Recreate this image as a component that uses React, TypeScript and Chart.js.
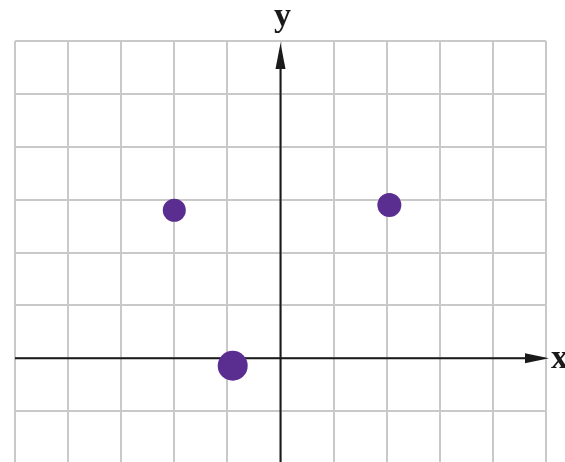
import React, { useEffect, useRef } from "react";
import { Chart, registerables } from "chart.js";

Chart.register(...registerables);

const pointsX = [-2.0, 2.05, -0.9];
const pointsY = [2.8, 2.9, -0.14];
const pointRadii = [11.5, 12, 15];
const xRange = [-5, 5];
const yRange = [-1.96, 6];
const axisLabels = ["x", "y"];

const axesPlugin = {
  id: "arrowAxes",
  beforeDatasetsDraw(chart: any) {
    const { ctx, scales, chartArea } = chart;
    const x0 = scales.x.getPixelForValue(0);
    const y0 = scales.y.getPixelForValue(0);
    ctx.save();
    ctx.strokeStyle = "#1a1a1a";
    ctx.fillStyle = "#1a1a1a";
    ctx.lineWidth = 2;
    // x axis
    const xTip = chartArea.right + 3;
    ctx.beginPath();
    ctx.moveTo(chartArea.left, y0);
    ctx.lineTo(xTip - 20, y0);
    ctx.stroke();
    ctx.beginPath();
    ctx.moveTo(xTip, y0);
    ctx.lineTo(xTip - 24, y0 - 5);
    ctx.lineTo(xTip - 24, y0 + 5);
    ctx.closePath();
    ctx.fill();
    // y axis
    const yTip = chartArea.top + 2;
    ctx.beginPath();
    ctx.moveTo(x0, chart.height);
    ctx.lineTo(x0, yTip + 20);
    ctx.stroke();
    ctx.beginPath();
    ctx.moveTo(x0, yTip);
    ctx.lineTo(x0 - 5, yTip + 26);
    ctx.lineTo(x0 + 5, yTip + 26);
    ctx.closePath();
    ctx.fill();
    // labels
    ctx.font = "bold 34px 'Liberation Serif', serif";
    ctx.textAlign = "center";
    ctx.textBaseline = "alphabetic";
    ctx.fillText(axisLabels[1], x0 + 2, 26);
    ctx.textAlign = "left";
    ctx.fillText(axisLabels[0], xTip + 2, y0 + 10);
    ctx.restore();
  },
};

export default function App() {
  const ref = useRef<HTMLCanvasElement>(null);
  useEffect(() => {
    if (!ref.current) return;
    const chart = new Chart(ref.current, {
      type: "scatter",
      data: {
        datasets: [
          {
            data: pointsX.map((x, i) => ({ x, y: pointsY[i] })),
            pointRadius: pointRadii,
            pointHoverRadius: pointRadii,
            backgroundColor: "#5a2d91",
            borderColor: "#5a2d91",
            borderWidth: 0,
          },
        ],
      },
      options: {
        responsive: false,
        animation: false,
        events: [],
        layout: { autoPadding: false, padding: { left: 15, right: 19, top: 41, bottom: 0 } },
        plugins: { legend: { display: false }, tooltip: { enabled: false } },
        scales: {
          x: {
            type: "linear",
            min: xRange[0],
            max: xRange[1],
            border: { display: false },
            grid: { color: "#c9c9c9", lineWidth: 2, drawTicks: false },
            ticks: { display: false, stepSize: 1, includeBounds: false },
          },
          y: {
            type: "linear",
            min: yRange[0],
            max: yRange[1],
            border: { display: false },
            grid: { color: "#c9c9c9", lineWidth: 2, drawTicks: false },
            ticks: { display: false, stepSize: 1, includeBounds: false },
          },
        },
      },
      plugins: [axesPlugin],
    });
    return () => chart.destroy();
  }, []);
  return (
    <div style={{ position: "fixed", left: 0, top: 0, width: 565, height: 462, background: "#fff", overflow: "hidden" }}>
      <canvas ref={ref} width={565} height={462} style={{ display: "block" }} />
    </div>
  );
}
